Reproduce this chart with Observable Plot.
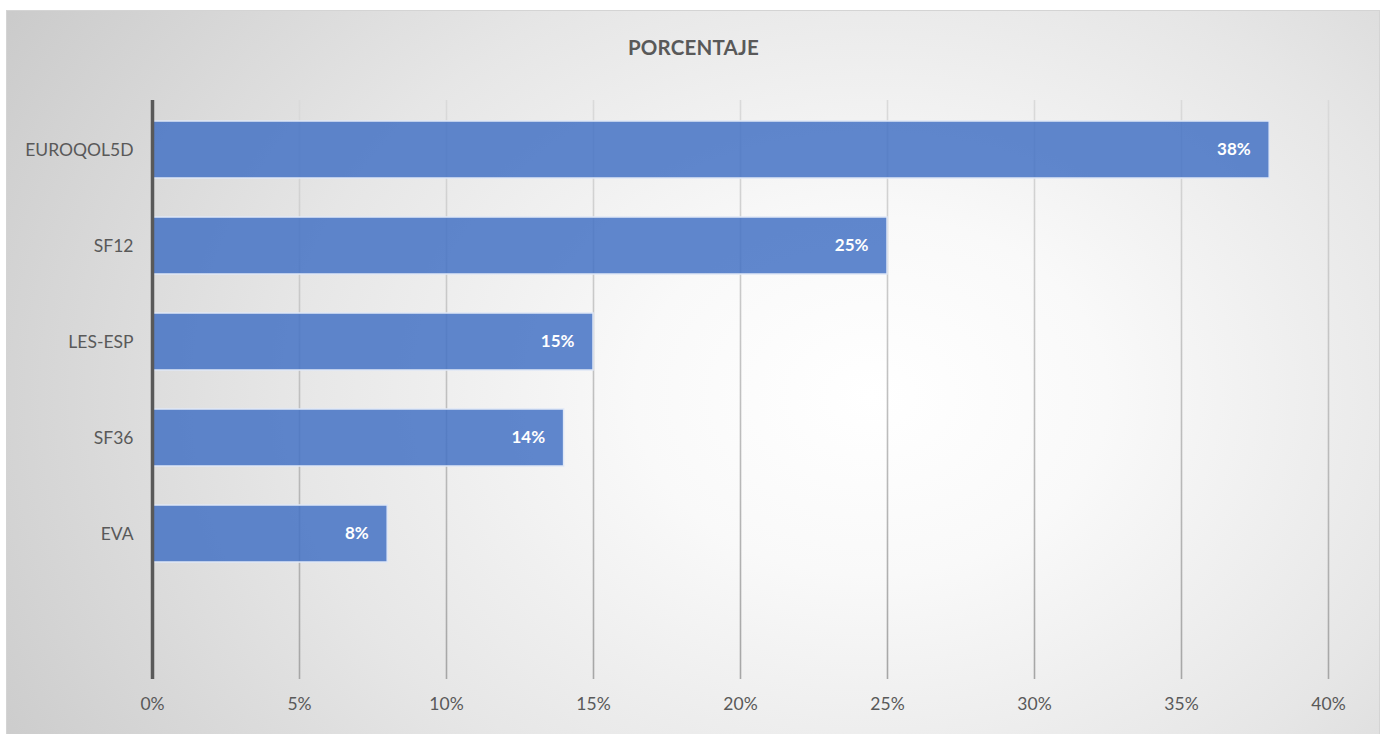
<!DOCTYPE html>
<html>
<head>
<meta charset="utf-8">
<script src="https://cdn.jsdelivr.net/npm/d3@7"></script>
<script src="https://cdn.jsdelivr.net/npm/@observablehq/plot@0.6"></script>
<style>
  html, body { margin: 0; padding: 0; background: #fff; }
  #wrap { position: relative; width: 1387px; height: 734px; overflow: hidden; font-family: Lato, "Open Sans", sans-serif; }
  #panel { position: absolute; left: 6px; top: 10px; width: 1372px; height: 740px; border: 1px solid #d4d4d4;
    background: radial-gradient(ellipse 78% 110% at 63% 52%, #ffffff 0%, #f9f9f9 22%, #e6e6e6 55%, #c6c6c6 100%); }
  #title { position: absolute; left: 0; width: 1387px; top: 35px; text-align: center; font-weight: bold; font-size: 20.5px; color: #595959; letter-spacing: 0.2px; }
  #chart { position: absolute; left: 0; top: 0; }
  #chart svg { background: transparent; overflow: visible; }
</style>
</head>
<body>
<div id="wrap">
  <div id="panel"></div>
  <div id="title">PORCENTAJE</div>
  <div id="chart"></div>
</div>
<script>
const categories = ["EUROQOL5D", "SF12", "LES-ESP", "SF36", "EVA"];
const values = [38, 25, 15, 14, 8];
const xTicks = [0, 5, 10, 15, 20, 25, 30, 35, 40];

const data = categories.map((c, i) => ({cat: c, v: values[i]}));

const chart = Plot.plot({
  width: 1387,
  height: 734,
  marginLeft: 152,
  marginRight: 59,
  marginTop: 100,
  marginBottom: 55,
  style: {background: "transparent", fontFamily: "Lato, 'Open Sans', sans-serif"},
  x: {domain: [0, 40], ticks: xTicks, tickFormat: d => d + "%"},
  y: {domain: [...categories, ""], paddingInner: 0.41, paddingOuter: 0.205},
  marks: [
    Plot.ruleX(xTicks.filter(t => t > 0), {stroke: "url(#gridGrad)", strokeWidth: 1.6}),
    Plot.barX(data, {x: "v", y: "cat", fill: "#4472c4", fillOpacity: 0.85, stroke: "#dfe7f6", strokeWidth: 1.5}),
    Plot.text(data, {x: "v", y: "cat", text: d => d.v + "%", textAnchor: "end", dx: -19, fill: "white", fontWeight: "bold", fontSize: 17}),
    Plot.ruleX([0], {stroke: "#595959", strokeWidth: 3.5}),
    Plot.axisX({ticks: xTicks, tickFormat: d => d + "%", tickSize: 0, tickPadding: 18, fontSize: 17.5, color: "#595959", label: null}),
    Plot.axisY({tickSize: 0, tickPadding: 19, fontSize: 17.5, color: "#595959", label: null})
  ]
});
// vertical gradient for gridlines (lighter at top, darker at bottom)
const svg = d3.select(chart);
const defs = svg.insert("defs", ":first-child");
const g = defs.append("linearGradient").attr("id", "gridGrad").attr("gradientUnits", "userSpaceOnUse")
  .attr("x1", 0).attr("x2", 0).attr("y1", 100).attr("y2", 679);
g.append("stop").attr("offset", "0%").attr("stop-color", "#dadada");
g.append("stop").attr("offset", "100%").attr("stop-color", "#a6a6a6");
document.getElementById("chart").appendChild(chart);
</script>
</body>
</html>
